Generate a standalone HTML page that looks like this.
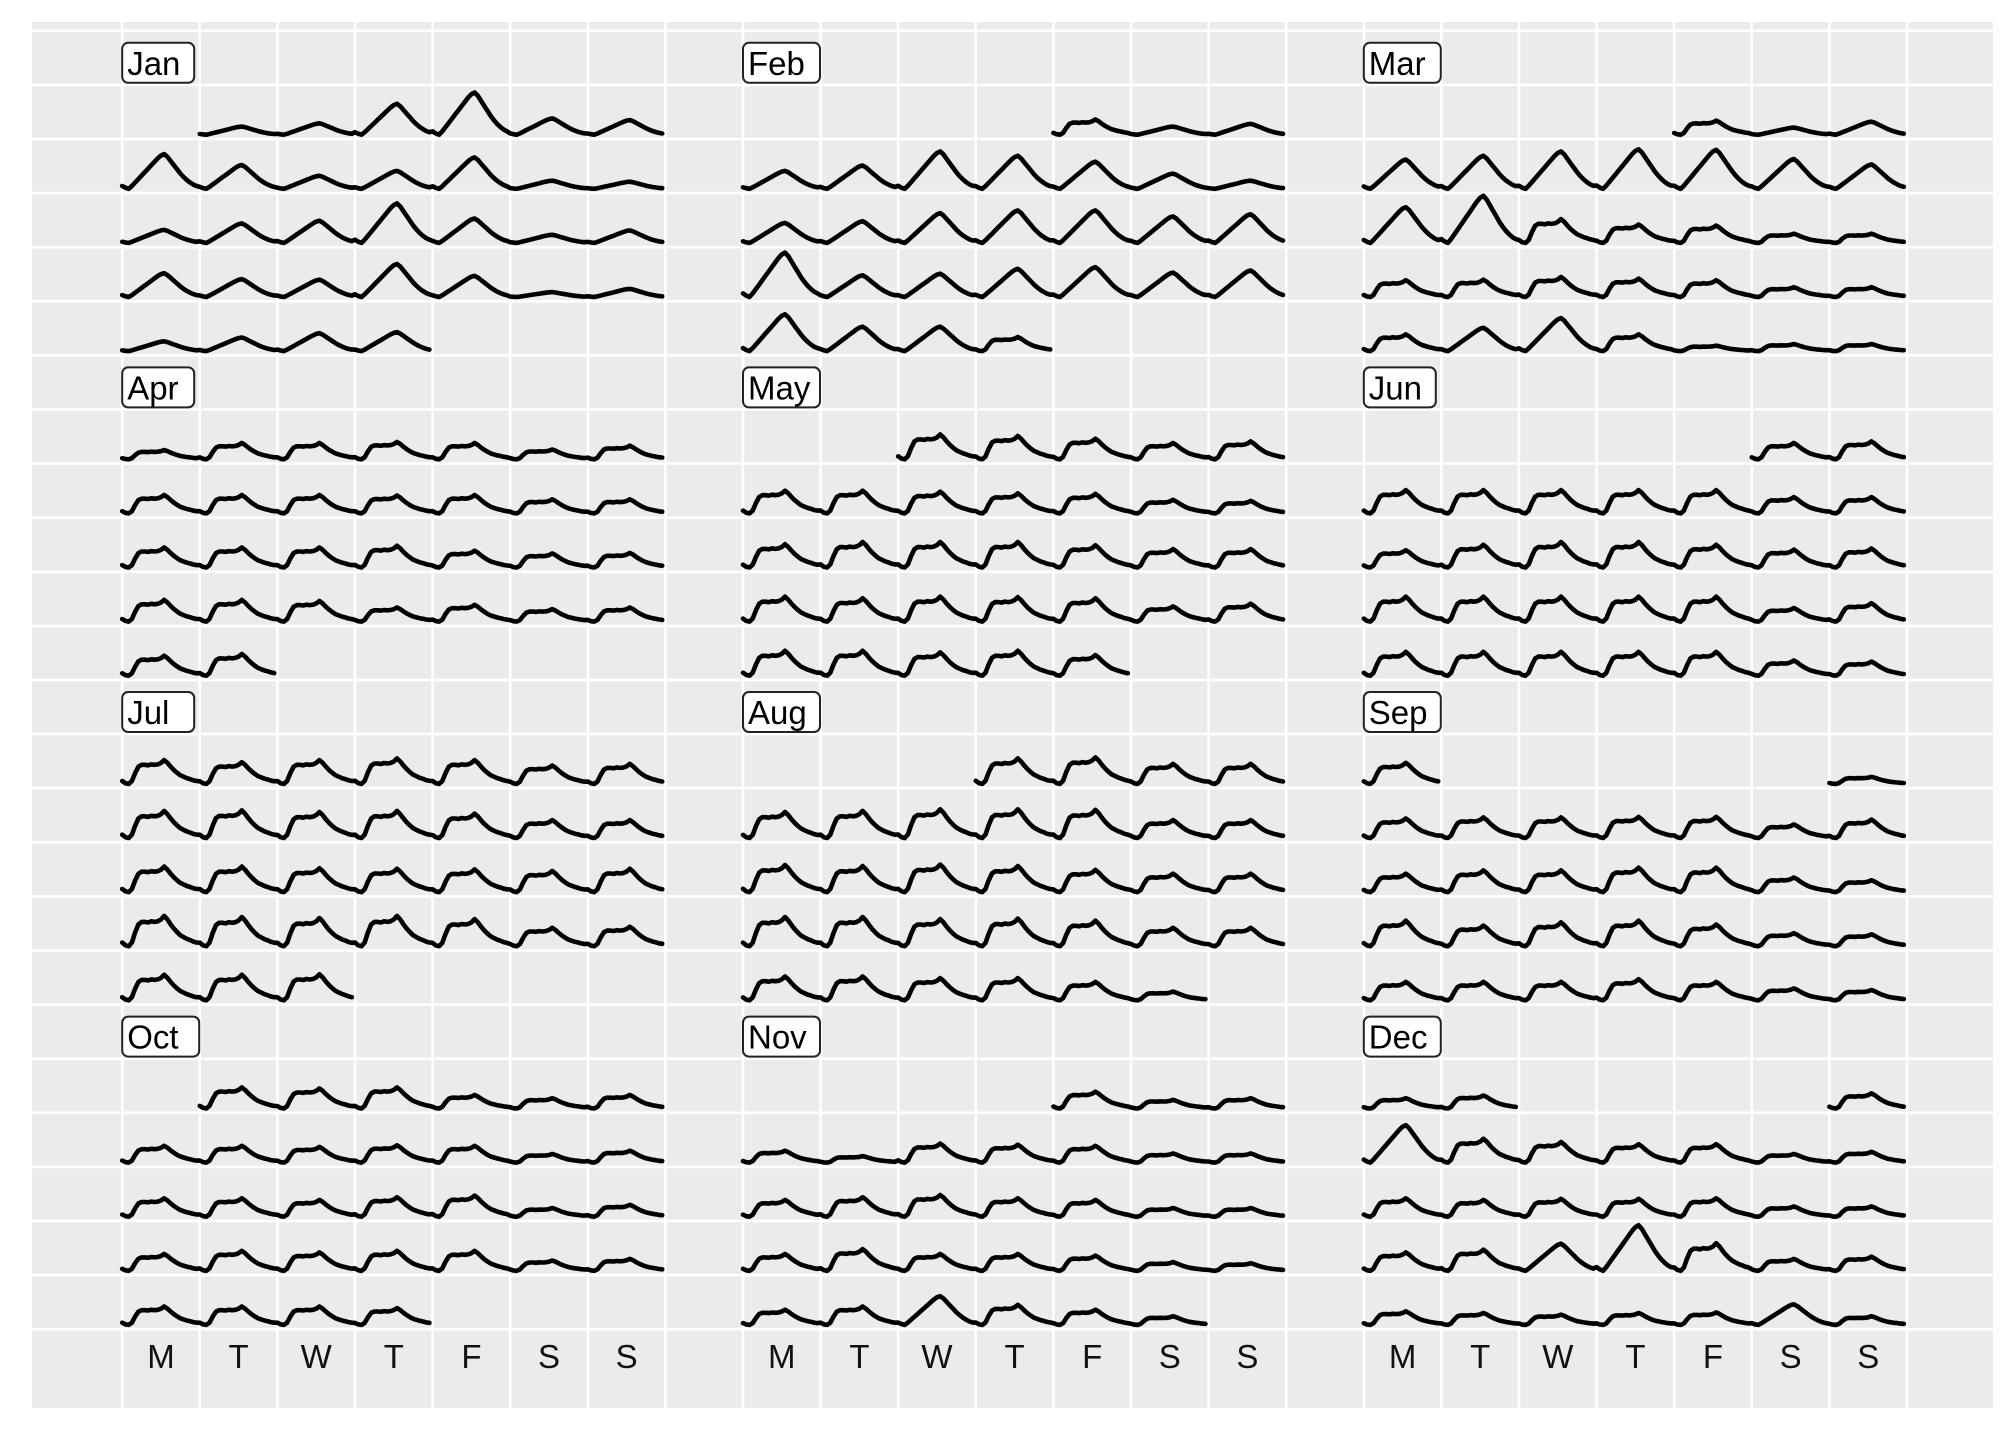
<!DOCTYPE html>
<html><head><meta charset="utf-8">
<style>
html,body{margin:0;padding:0;background:#fff;}
svg{display:block;}
text{font-family:"Liberation Sans",Arial,sans-serif;}
</style></head>
<body>
<svg id="chart" width="2016" height="1440" viewBox="0 0 2016 1440" xmlns="http://www.w3.org/2000/svg">
  <rect x="32" y="22" width="1961" height="1386" fill="#ebebeb"/>
  <g id="grid"></g>
  <g id="series"></g>
  <g id="labels"></g>
  <g id="xaxis"></g>
</svg>
<script>
const months = ['Jan','Feb','Mar','Apr','May','Jun','Jul','Aug','Sep','Oct','Nov','Dec'];
const dayLabels = ['M','T','W','T','F','S','S'];
const year = 2019;
// daily peak height (fraction of row height), day 1..N
const janVals = [.15,.21,.57,.78,.3,.27, .64,.44,.24,.33,.58,.15,.13, .24,.36,.41,.73,.45,.15,.23, .44,.33,.32,.61,.39,.09,.15, .18,.25,.33,.35];
const febVals = [.28,.15,.2, .33,.43,.69,.61,.5,.28,.15, .37,.4,.55,.6,.6,.49,.53, .82,.4,.43,.52,.55,.45,.49, .68,.45,.45,.26];
const marVals = [.26,.13,.24, .54,.61,.69,.73,.72,.55,.45, .66,.87,.44,.34,.32,.17,.17, .31,.32,.37,.34,.31,.18,.18, .31,.43,.61,.31,.1,.13,.13];
const aprVals = [.17,.3,.3,.32,.3,.18,.25, .34,.34,.34,.33,.34,.26,.26, .37,.37,.37,.4,.31,.26,.27, .4,.4,.38,.26,.31,.23,.26, .37,.4];
const mayVals = [.46,.43,.38,.3,.33, .42,.42,.4,.37,.36,.25,.23, .43,.47,.47,.47,.41,.34,.34, .46,.43,.46,.45,.43,.28,.33, .46,.46,.43,.46,.38];
const junVals = [.3,.33, .43,.43,.43,.43,.43,.3,.3, .32,.42,.47,.47,.42,.33,.35, .46,.46,.46,.46,.46,.25,.34, .44,.44,.44,.44,.44,.28,.26];
const julVals = [.44,.4,.44,.47,.44,.34,.37, .5,.51,.48,.5,.45,.33,.33, .47,.47,.44,.43,.42,.39,.43, .56,.54,.52,.56,.5,.34,.36, .47,.47,.48];
const augVals = [.47,.49,.37,.37, .48,.5,.53,.53,.52,.33,.33, .5,.48,.51,.48,.41,.34,.34, .54,.54,.5,.51,.47,.34,.34, .44,.44,.41,.41,.34,.16];
const sepVals = [.13, .36,.38,.38,.39,.39,.25,.34, .34,.4,.4,.45,.45,.27,.22, .47,.38,.44,.47,.4,.24,.22, .34,.34,.34,.39,.34,.22,.19, .39];
const octVals = [.39,.37,.39,.25,.19,.25, .31,.31,.29,.32,.31,.16,.22, .34,.34,.31,.36,.39,.16,.22, .31,.37,.34,.37,.37,.19,.22, .34,.34,.34,.31];
const novVals = [.31,.16,.19, .22,.12,.35,.33,.31,.17,.17, .31,.36,.4,.34,.31,.16,.16, .31,.4,.31,.31,.28,.16,.14, .28,.34,.53,.37,.28,.16];
const decVals = [.28, .69,.44,.38,.34,.34,.16,.2, .34,.31,.33,.33,.34,.19,.19, .34,.39,.5,.84,.51,.22,.26, .25,.22,.19,.22,.23,.38,.16, .19,.24];
const monthVals = [janVals,febVals,marVals,aprVals,mayVals,junVals,julVals,augVals,sepVals,octVals,novVals,decVals];
// day shape: default per month, with toggled days
const shapeDefault = ['p','p','f','f','f','f','f','f','f','f','f','f'];
const shapeToggles = [[],[1,28],[2,3,4,5,6,7,8,9,10,11,12,26,27],[],[],[],[],[],[],[],[27],[2,18,19,28]];
// hourly profiles (normalised 0..1)
const profilePeak = [0.08,0.03,0.0,0.08,0.18,0.28,0.38,0.48,0.58,0.68,0.78,0.88,0.96,1.0,0.92,0.8,0.68,0.56,0.44,0.34,0.25,0.18,0.12,0.08];
const profileFlat = [0.12,0.03,0.0,0.12,0.45,0.72,0.8,0.8,0.78,0.82,0.8,0.82,0.88,1.0,0.88,0.72,0.58,0.46,0.36,0.3,0.24,0.2,0.15,0.12];

const NS='http://www.w3.org/2000/svg';
const X0=122.2, CW=77.6, Y0=84.9, RH=54.1;
const PL=32, PR=1993, PT=22, PB=1408;
function xScale(col, hour){ return X0 + CW*col + CW*hour/24; }
function rowTop(rowIdx){ return Y0 + RH*rowIdx; }
function yScale(rowIdx, v){ return rowTop(rowIdx) + RH*0.92 - v*RH; }

const grid=document.getElementById('grid');
for(let k=0;k<=23;k++){
  const x=X0+CW*k;
  const l=document.createElementNS(NS,'line');
  l.setAttribute('x1',x);l.setAttribute('x2',x);l.setAttribute('y1',PT);l.setAttribute('y2',PB);
  l.setAttribute('stroke','#fff');l.setAttribute('stroke-width','2.6');
  
  
  grid.appendChild(l);
}
for(let k=-1;k<=23;k++){
  const y=rowTop(k);
  const l=document.createElementNS(NS,'line');
  l.setAttribute('x1',PL);l.setAttribute('x2',PR);l.setAttribute('y1',y);l.setAttribute('y2',y);
  l.setAttribute('stroke','#fff');l.setAttribute('stroke-width','2.6');
  
  
  grid.appendChild(l);
}

const series=document.getElementById('series');
const labels=document.getElementById('labels');
months.forEach((mName,m)=>{
  const block=Math.floor(m/3), fc=m%3;
  const vals=monthVals[m];
  const first=(new Date(year,m,1).getDay()+6)%7;
  const runs={};
  vals.forEach((h,i)=>{
    const d=i+1;
    const wd=(first+i)%7;
    let r=Math.floor((first+i)/7);
    if(r>=5) r=0;
    let sh=shapeDefault[m];
    if(shapeToggles[m].indexOf(d)>=0) sh = sh==='p'?'f':'p';
    const prof= sh==='p'?profilePeak:profileFlat;
    const rowIdx=block*6+r;
    const col=fc*8+wd;
    const pts=prof.map((v,hr)=>[xScale(col,hr), yScale(rowIdx,v*h)]);
    if(!runs[r]) runs[r]=[];
    const arr=runs[r];
    if(arr.length && arr[arr.length-1].lastWd===wd-1){ arr[arr.length-1].pts.push(...pts); arr[arr.length-1].lastWd=wd; }
    else arr.push({pts:pts.slice(), lastWd:wd});
  });
  Object.keys(runs).forEach(k=>{
    runs[k].forEach(run=>{
      const p=document.createElementNS(NS,'path');
      p.setAttribute('d','M'+run.pts.map(q=>q[0].toFixed(1)+','+q[1].toFixed(1)).join('L'));
      p.setAttribute('fill','none');p.setAttribute('stroke','#000');p.setAttribute('stroke-width','4.6');
      p.setAttribute('stroke-linejoin','round');p.setAttribute('stroke-linecap','round');
      
      
      series.appendChild(p);
    });
  });
  const lx=X0+CW*fc*8, ly=rowTop(block*6-1)+12;
  const w = (mName==='Jan'||mName==='Jun'||mName==='Jul'||mName==='Apr'?72:77);
  const g=document.createElementNS(NS,'g');
  
  
  const rc=document.createElementNS(NS,'rect');
  rc.setAttribute('x',lx);rc.setAttribute('y',ly);rc.setAttribute('width',w);rc.setAttribute('height',40);
  rc.setAttribute('rx',6);rc.setAttribute('fill','#fff');rc.setAttribute('stroke','#222');rc.setAttribute('stroke-width','2');
  g.appendChild(rc);
  const t=document.createElementNS(NS,'text');
  t.setAttribute('x',lx+5);t.setAttribute('y',ly+32);t.setAttribute('font-size','33');t.setAttribute('fill','#000');
  t.textContent=mName;
  g.appendChild(t);
  labels.appendChild(g);
});

const xa=document.getElementById('xaxis');
for(let fc=0;fc<3;fc++){
  dayLabels.forEach((dl,i)=>{
    const t=document.createElementNS(NS,'text');
    t.setAttribute('x',X0+CW*(fc*8+i)+CW/2);t.setAttribute('y',1368);
    t.setAttribute('text-anchor','middle');t.setAttribute('font-size','33');t.setAttribute('fill','#111');
    
    
    t.textContent=dl;
    xa.appendChild(t);
  });
}
</script>
</body></html>
